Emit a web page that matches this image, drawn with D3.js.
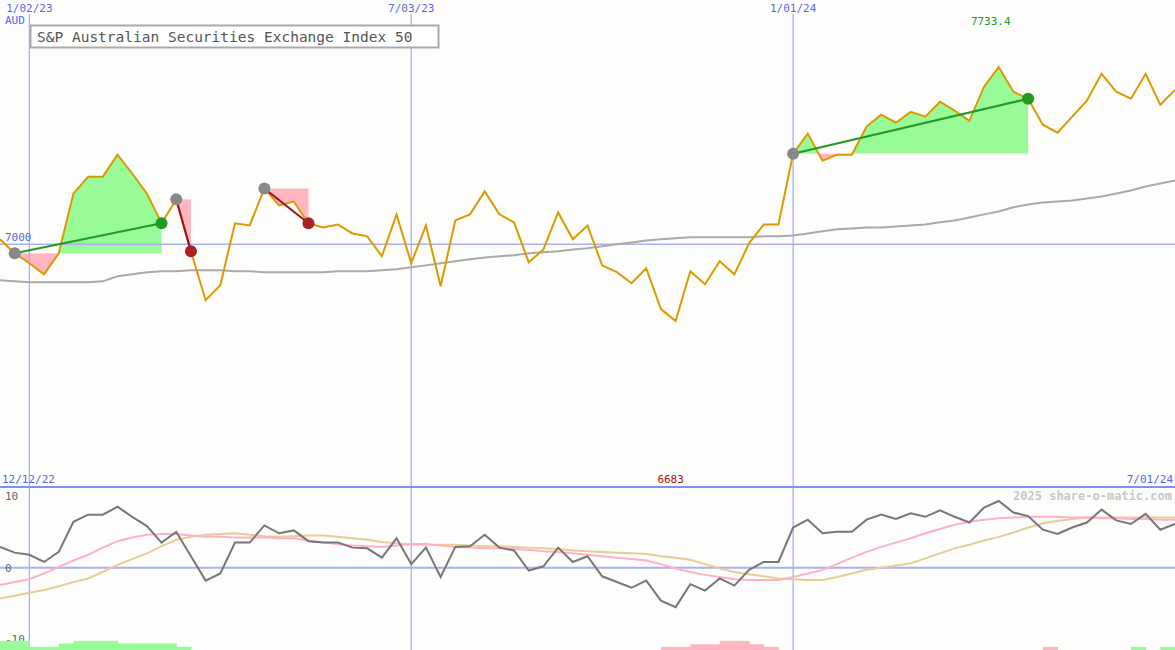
<!DOCTYPE html>
<html><head><meta charset="utf-8">
<script src="https://cdn.jsdelivr.net/npm/d3@7/dist/d3.min.js"></script>
<style>body{margin:0;background:#fdfefb}svg{display:block}text{font-family:"DejaVu Sans Mono",monospace}</style>
</head><body><svg id="c" width="1175" height="650"></svg>
<script>
const title = "S&P Australian Securities Exchange Index 50";
const currency = "AUD";
const gridLabels = [{i:2,t:"1/02/23"},{i:28,t:"7/03/23"},{i:54,t:"1/01/24"}];
const startLabel = "12/12/22", endLabel = "7/01/24";
const price = [7021,6963,6922,6876,6963,7210,7280,7280,7371,7293,7210,7087,7186,6971,6769,6831,7087,7078,7231,7161,7177,7087,7070,7082,7045,7033,6951,7124,6922,7078,6827,7099,7124,7219,7124,7091,6926,6979,7132,7021,7078,6913,6885,6839,6901,6732,6683,6889,6835,6930,6876,7004,7082,7082,7375,7458,7346,7371,7371,7487,7536,7503,7548,7528,7590,7553,7511,7652,7733.4,7631,7602,7495,7462,7528,7594,7705,7631,7602,7705,7577,7639];
const ma = [6852,6847,6843,6843,6843,6843,6843,6847,6868,6876,6885,6889,6889,6893,6893,6893,6889,6889,6885,6885,6885,6885,6885,6889,6889,6889,6893,6897,6905,6913,6922,6930,6938,6946,6951,6955,6963,6967,6971,6979,6984,6992,7000,7008,7016,7021,7025,7029,7029,7029,7029,7029,7033,7033,7037,7045,7054,7062,7066,7070,7070,7074,7078,7082,7091,7099,7111,7124,7136,7153,7165,7173,7177,7181,7190,7198,7210,7223,7239,7252,7264];
const osc = [2.9,2.1,1.8,0.8,2.2,6.4,7.4,7.4,8.5,7.1,5.8,3.5,5.0,1.6,-1.8,-0.8,3.5,3.5,5.9,4.8,5.2,3.7,3.5,3.5,2.8,2.7,1.4,4.1,0.5,2.8,-1.3,2.9,3.0,4.6,2.8,2.4,-0.4,0.2,2.8,0.8,1.6,-1.2,-2.0,-2.8,-1.8,-4.6,-5.5,-2.3,-3.2,-1.5,-2.5,-0.3,0.8,0.8,5.6,6.7,4.8,5.0,5.0,6.7,7.4,6.8,7.6,7.1,8.0,7.1,6.3,8.4,9.3,7.7,7.2,5.3,4.7,5.6,6.3,8.1,6.6,6.1,7.5,5.3,6.1];
const fast = [-2.4,-2.0,-1.6,-0.8,0.1,1.0,1.8,2.8,3.7,4.2,4.6,4.7,4.7,4.5,4.3,4.3,4.2,4.2,4.2,4.1,4.1,3.8,3.5,3.3,3.1,3.0,2.9,3.1,3.3,3.3,3.1,2.9,2.8,2.7,2.7,2.6,2.5,2.3,2.2,2.0,1.8,1.6,1.4,1.2,1.0,0.5,-0.1,-0.6,-1.0,-1.3,-1.6,-1.7,-1.7,-1.7,-1.3,-0.8,-0.3,0.5,1.4,2.2,2.9,3.5,4.1,4.8,5.4,6.0,6.4,6.7,6.9,7.0,7.1,7.1,7.1,7.0,7.0,6.9,6.9,6.8,6.8,6.7,6.7];
const slow = [-4.3,-3.9,-3.5,-3.1,-2.6,-2.0,-1.5,-0.6,0.4,1.2,2.0,3.0,3.9,4.3,4.6,4.7,4.8,4.6,4.4,4.3,4.4,4.5,4.5,4.3,4.1,3.9,3.6,3.4,3.2,3.2,3.2,3.2,3.1,3.0,3.0,2.9,2.8,2.7,2.6,2.4,2.3,2.2,2.1,2.0,1.9,1.6,1.4,1.1,0.5,-0.1,-0.6,-0.9,-1.2,-1.5,-1.6,-1.7,-1.7,-1.3,-0.8,-0.3,0.0,0.3,0.6,1.3,2.0,2.7,3.2,3.8,4.3,4.9,5.6,6.2,6.5,6.8,7.0,7.0,7.0,7.0,7.0,7.0,7.0];
const histIdx = [0,1,2,3,4,5,6,7,8,9,10,11,12,45,46,47,48,49,50,51,52,71,77,79];
const histVal = [1.3,1.3,0.46,0.46,0.93,1.3,1.3,1.3,0.93,0.93,0.93,0.93,0.46,-0.46,-0.46,-0.83,-0.83,-1.3,-1.3,-0.83,-0.46,-0.46,0.46,0.46];
const trades = [{a:1,b:11},{a:12,b:13},{a:18,b:21},{a:54,b:70}];

const svg = d3.select("#c");
const W=1175;
const x = d3.scaleLinear().domain([0,80]).range([0,W]);
const y = d3.scaleLinear().domain([6683,7733.4]).range([321,67]);
const y2 = d3.scaleLinear().domain([-10,10]).range([639.4,496]);
const grid="#a8b0f4", blue="#5566ee";
svg.append("rect").attr("width",W).attr("height",650).attr("fill","#fdfefb");

// trade fills
const defs=svg.append("defs");
trades.forEach((t,k)=>{
  const e=price[t.a], seg=d3.range(t.a,t.b+1);
  const ar=d3.area().x(i=>x(i)).y0(y(e)).y1(i=>y(price[i]));
  defs.append("clipPath").attr("id","up"+k).append("rect").attr("x",0).attr("y",0).attr("width",W).attr("height",y(e));
  defs.append("clipPath").attr("id","dn"+k).append("rect").attr("x",0).attr("y",y(e)).attr("width",W).attr("height",400);
  svg.append("path").datum(seg).attr("d",ar).attr("fill","#98fb98").attr("clip-path",`url(#up${k})`);
  svg.append("path").datum(seg).attr("d",ar).attr("fill","#ffb6c1").attr("clip-path",`url(#dn${k})`);
});
// grids
gridLabels.forEach(g=>{
  svg.append("line").attr("x1",x(g.i)).attr("x2",x(g.i)).attr("y1",14).attr("y2",650).attr("stroke",grid).attr("stroke-width",1.3);
  svg.append("text").attr("x",x(g.i)).attr("y",12).attr("text-anchor","middle").attr("font-size",11).attr("fill",blue).text(g.t);
});
svg.append("line").attr("x1",0).attr("x2",W).attr("y1",y(7000)).attr("y2",y(7000)).attr("stroke",grid).attr("stroke-width",1.5);
svg.append("text").attr("x",5).attr("y",y(7000)-3).attr("font-size",11).attr("fill",blue).text("7000");
svg.append("text").attr("x",5).attr("y",24).attr("font-size",11).attr("fill",blue).text(currency);

const line=d3.line().x((d,i)=>x(i)).y(d=>y(d));
svg.append("path").datum(ma).attr("d",line).attr("fill","none").attr("stroke","#aaaaaa").attr("stroke-width",2);
svg.append("path").datum(price).attr("d",line).attr("fill","none").attr("stroke","#dd9900").attr("stroke-width",2);
trades.forEach(t=>{
  const win=price[t.b]>price[t.a];
  svg.append("line").attr("x1",x(t.a)).attr("y1",y(price[t.a])).attr("x2",x(t.b)).attr("y2",y(price[t.b])).attr("stroke",win?"#229922":"#991122").attr("stroke-width",2);
  svg.append("circle").attr("cx",x(t.a)).attr("cy",y(price[t.a])).attr("r",6).attr("fill","#888");
  svg.append("circle").attr("cx",x(t.b)).attr("cy",y(price[t.b])).attr("r",6).attr("fill",win?"#229922":"#aa2222");
});
const imax=d3.maxIndex(price), imin=d3.minIndex(price);
svg.append("text").attr("x",x(imax)-8).attr("y",25).attr("text-anchor","middle").attr("font-size",11).attr("fill","#229922").text(price[imax]);
// legend
svg.append("rect").attr("x",30.5).attr("y",25.5).attr("width",408).attr("height",22).attr("fill","#fff").attr("stroke","#aaa").attr("stroke-width",2);
svg.append("text").attr("x",37).attr("y",42).attr("font-size",14.5).attr("fill","#555").text(title);

// lower panel
svg.append("line").attr("x1",0).attr("x2",W).attr("y1",487).attr("y2",487).attr("stroke","#8090f0").attr("stroke-width",2);
svg.append("text").attr("x",2).attr("y",483).attr("font-size",11).attr("fill",blue).text(startLabel);
svg.append("text").attr("x",W-2).attr("y",483).attr("text-anchor","end").attr("font-size",11).attr("fill",blue).text(endLabel);
svg.append("text").attr("x",x(imin)-5).attr("y",483).attr("text-anchor","middle").attr("font-size",11).attr("fill","#aa1111").text(price[imin]);
svg.append("text").attr("x",W-3).attr("y",500).attr("text-anchor","end").attr("font-size",12).attr("font-weight","bold").attr("fill","#c8c8c8").text("2025 share-o-matic.com");
svg.append("line").attr("x1",0).attr("x2",W).attr("y1",y2(0)).attr("y2",y2(0)).attr("stroke",grid).attr("stroke-width",2);
[10,0,-10].forEach(v=>svg.append("text").attr("x",5).attr("y",y2(v)+4).attr("font-size",11).attr("fill","#666").text(v));
const base=y2(-11.5);
histIdx.forEach((i,k)=>{const v=histVal[k];
  svg.append("rect").attr("x",x(i)).attr("width",x(1)+0.5).attr("y",y2(-11.5+Math.abs(v))).attr("height",base-y2(-11.5+Math.abs(v))).attr("fill",v>0?"#98fb98":"#ffb6c1");});
const l2=d3.line().x((d,i)=>x(i)).y(d=>y2(d));
svg.append("path").datum(slow).attr("d",l2).attr("fill","none").attr("stroke","#e8cc98").attr("stroke-width",2);
svg.append("path").datum(fast).attr("d",l2).attr("fill","none").attr("stroke","#ffb0c8").attr("stroke-width",2);
svg.append("path").datum(osc).attr("d",l2).attr("fill","none").attr("stroke","#777").attr("stroke-width",2);
</script></body></html>
